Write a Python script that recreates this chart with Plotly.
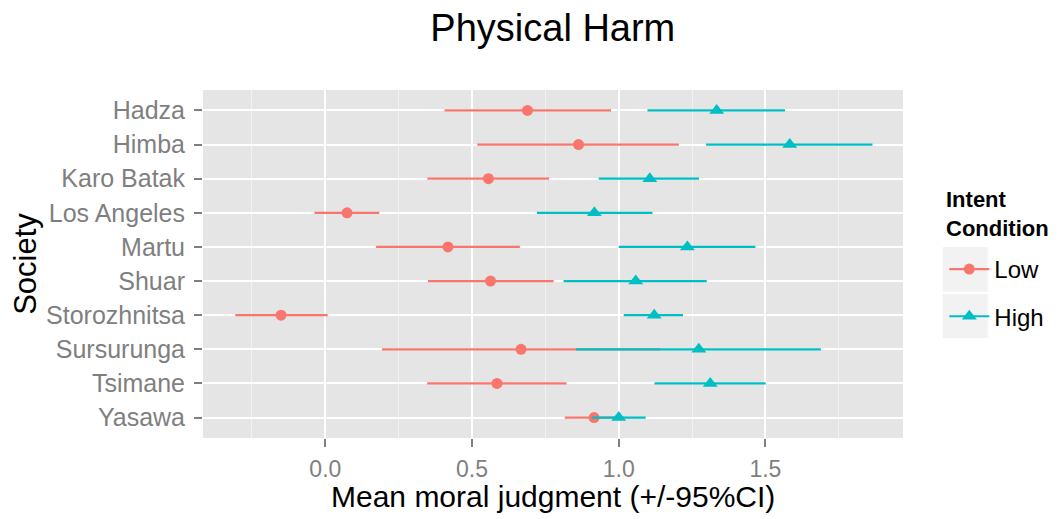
import plotly.graph_objects as go

societies = ["Hadza", "Himba", "Karo Batak", "Los Angeles", "Martu", "Shuar",
             "Storozhnitsa", "Sursurunga", "Tsimane", "Yasawa"]

low_mean = [0.689, 0.863, 0.556, 0.074, 0.418, 0.563, -0.151, 0.667, 0.585, 0.916]
low_lower = [0.406, 0.518, 0.348, -0.037, 0.173, 0.350, -0.307, 0.193, 0.347, 0.816]
low_upper = [0.974, 1.205, 0.763, 0.184, 0.663, 0.778, 0.008, 1.141, 0.822, 1.016]

high_mean = [1.334, 1.583, 1.106, 0.917, 1.234, 1.058, 1.121, 1.273, 1.312, 1.000]
high_lower = [1.098, 1.298, 0.932, 0.721, 1.000, 0.812, 1.017, 0.854, 1.122, 0.908]
high_upper = [1.567, 1.865, 1.274, 1.115, 1.466, 1.300, 1.219, 1.689, 1.501, 1.092]

red = "#F8766D"
teal = "#00BFC4"

fig = go.Figure()


def add_group(name, mean, lower, upper, color, symbol, size):
    plus = [u - m for u, m in zip(upper, mean)]
    minus = [m - l for m, l in zip(mean, lower)]
    fig.add_trace(go.Scatter(
        x=mean, y=societies, mode="markers", showlegend=False,
        marker=dict(color=color, symbol=symbol, size=size),
        error_x=dict(type="data", array=plus, arrayminus=minus, symmetric=False,
                     color=color, thickness=2.2, width=0),
    ))
    # legend entry drawn as line + marker like the ggplot key
    fig.add_trace(go.Scatter(
        x=[None], y=[None], mode="lines+markers", name=name, legendgroup=name,
        line=dict(color=color, width=2.2),
        marker=dict(color=color, symbol=symbol, size=size),
    ))


add_group("Low", low_mean, low_lower, low_upper, red, "circle", 11)
add_group("High", high_mean, high_lower, high_upper, teal, "triangle-up", 13)

# grey key backgrounds behind the legend symbols
for y0, y1 in [(0.420, 0.549), (0.287, 0.414)]:
    fig.add_shape(type="rect", xref="paper", yref="paper", x0=1.057, x1=1.121,
                  y0=y0, y1=y1, fillcolor="#F2F2F2", line_width=0, layer="below")

fig.add_annotation(text="<b>Intent<br>Condition</b>", xref="paper", yref="paper",
                   x=1.059, y=0.728, xanchor="left", yanchor="top", align="left",
                   showarrow=False, font=dict(size=22, color="black"))

fig.add_annotation(text="Mean moral judgment (+/-95%CI)", xref="paper", yref="paper",
                   x=0.5, y=-0.168, xanchor="center", yanchor="middle",
                   showarrow=False, font=dict(size=30, color="black"))

fig.update_layout(
    width=1062, height=519,
    margin=dict(l=195, r=167, t=82, b=89),
    paper_bgcolor="white",
    plot_bgcolor="#E5E5E5",
    font=dict(family="Liberation Sans, Arial, sans-serif", color="black"),
    title=dict(text="Physical Harm", x=0.513, xanchor="center", y=0.963, yanchor="middle",
               font=dict(size=38, color="black")),
    legend=dict(
        font=dict(size=24),
        x=1.059, xanchor="left", y=0.549, yanchor="top",
        bgcolor="rgba(0,0,0,0)",
        itemwidth=40, tracegroupgap=13,
    ),
)

fig.update_xaxes(
    range=[-0.417, 1.969], automargin=False,
    tickmode="array", tickvals=[0.0, 0.5, 1.0, 1.5], ticktext=["0.0", "0.5", "1.0", "1.5"],
    showgrid=True, gridcolor="white", gridwidth=2,
    minor=dict(tickvals=[-0.25, 0.25, 0.75, 1.25, 1.75], showgrid=True,
               gridcolor="#F2F2F2", gridwidth=1, ticks=""),
    ticks="outside", ticklen=8, tickcolor="#7F7F7F", tickwidth=1.5,
    ticklabelstandoff=2,
    tickfont=dict(size=23, color="#7F7F7F"),
    zeroline=False, showline=False,
)

fig.update_yaxes(
    categoryorder="array", categoryarray=societies, range=[9.6, -0.6], automargin=False,
    showgrid=True, gridcolor="white", gridwidth=2,
    ticks="outside", ticklen=8, tickcolor="#7F7F7F", tickwidth=1.5,
    ticklabelstandoff=4,
    tickfont=dict(size=25, color="#7F7F7F"),
    title=dict(text="Society", font=dict(size=31), standoff=12),
    zeroline=False, showline=False,
)

fig.write_html("out.html")
